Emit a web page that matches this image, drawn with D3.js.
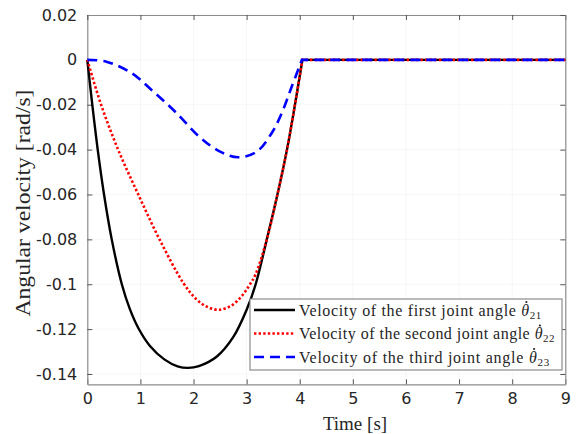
<html>
<head>
    <meta content="text/html;charset=utf-8" http-equiv="Content-Type"/>
    <style>
        body { margin: 0; background: #fff; }
        .tick text { font-family: "DejaVu Sans", sans-serif; font-size: 16px; fill: #262626; }
        .serif { font-family: "Liberation Serif", "Times New Roman", serif; fill: #262626; }
    </style>
</head>
<body>

<svg id="chart" width="578" height="434"></svg>

<script src="https://d3js.org/d3.v7.min.js"></script>
<script>
    // values
    const black_t = [0, 0.094, 0.196, 0.315, 0.46, 0.65, 0.80, 0.96, 1.18, 1.45, 1.70, 1.90, 2.10, 2.44, 2.75, 3.0, 3.17, 3.38, 3.58, 3.76, 3.91, 4.05, 9];
    const black_v = [0, -0.020, -0.040, -0.060, -0.080, -0.100, -0.111, -0.1195, -0.1275, -0.1335, -0.1366, -0.1373, -0.1365, -0.1322, -0.1235, -0.1114, -0.100, -0.080, -0.060, -0.040, -0.020, 0, 0];

    const red_t = [0, 0.26, 0.58, 0.96, 1.36, 1.81, 2.05, 2.25, 2.47, 2.70, 2.90, 3.05, 3.17, 3.38, 3.58, 3.76, 3.91, 4.05, 9];
    const red_v = [0, -0.020, -0.040, -0.060, -0.080, -0.0995, -0.1066, -0.1100, -0.1114, -0.1097, -0.1055, -0.1005, -0.0955, -0.080, -0.060, -0.040, -0.020, 0, 0];

    const blue_t = [0, 0.36, 0.84, 1.21, 1.65, 2.12, 2.50, 2.84, 3.19, 3.47, 3.66, 3.85, 4.04, 9];
    const blue_v = [0, -0.0008, -0.006, -0.0134, -0.023, -0.0345, -0.0409, -0.0434, -0.0409, -0.0327, -0.0238, -0.0119, 0, 0];

    const x_ticks = [0, 1, 2, 3, 4, 5, 6, 7, 8, 9];
    const y_ticks = [0.02, 0, -0.02, -0.04, -0.06, -0.08, -0.1, -0.12, -0.14];
    const y_tick_labels = ["0.02", "0", "-0.02", "-0.04", "-0.06", "-0.08", "-0.1", "-0.12", "-0.14"];

    const legend_names = ["Velocity of the first joint angle ", "Velocity of the second joint angle ", "Velocity of the third joint angle "];
    const legend_subs = ["21", "22", "23"];

    const ax_left = 87.3, ax_right = 565.3, ax_top = 15, ax_bottom = 384.3;

    const svg = d3.select('#chart');
    const x = d3.scaleLinear().domain([0, 9]).range([ax_left, ax_right]);
    const y = d3.scaleLinear().domain([-0.1446, 0.02]).range([ax_bottom, ax_top]);

    // faint grid
    const grid = svg.append('g').attr('stroke', '#000').attr('stroke-opacity', 0.035);
    x_ticks.forEach(function(t) {
        grid.append('line').attr('x1', x(t)).attr('x2', x(t)).attr('y1', ax_top).attr('y2', ax_bottom);
    });
    y_ticks.forEach(function(t) {
        grid.append('line').attr('x1', ax_left).attr('x2', ax_right).attr('y1', y(t)).attr('y2', y(t));
    });

    // axes, ticks pointing inward on all four sides
    const fmt = function(d) { return y_tick_labels[y_ticks.indexOf(d)]; };
    svg.append('g').attr('transform', 'translate(0,' + ax_bottom + ')')
        .call(d3.axisBottom(x).tickValues(x_ticks).tickSizeInner(-5).tickSizeOuter(0).tickPadding(8).tickFormat(d3.format('d')));
    svg.append('g').attr('transform', 'translate(' + ax_left + ',0)')
        .call(d3.axisLeft(y).tickValues(y_ticks).tickSizeInner(-5).tickSizeOuter(0).tickPadding(10).tickFormat(fmt));
    svg.append('g').attr('transform', 'translate(0,' + ax_top + ')')
        .call(d3.axisTop(x).tickValues(x_ticks).tickSizeInner(-5).tickSizeOuter(0).tickFormat(''));
    svg.append('g').attr('transform', 'translate(' + ax_right + ',0)')
        .call(d3.axisRight(y).tickValues(y_ticks).tickSizeInner(-5).tickSizeOuter(0).tickFormat(''));
    svg.selectAll('.domain').attr('stroke', '#8c8c8c').attr('stroke-width', 1.2);
    svg.selectAll('.tick line').attr('stroke', '#555');

    // curves: smooth part up to the stop time, straight zero line afterwards
    function series(ts, vs) {
        return ts.map(function(t, i) { return {t: t, v: vs[i]}; });
    }
    function draw(ts, vs, style) {
        const d = series(ts, vs);
        const n = d.length;
        const smooth = d3.line().x(function(p) { return x(p.t); }).y(function(p) { return y(p.v); }).curve(d3.curveCatmullRom.alpha(0.5));
        const straight = d3.line().x(function(p) { return x(p.t); }).y(function(p) { return y(p.v); });
        const path = smooth(d.slice(0, n - 1)) + straight(d.slice(n - 2)).replace(/^M[^L]*/, '');
        svg.append('path').attr('d', path).attr('fill', 'none')
            .attr('stroke', style.color).attr('stroke-width', style.width)
            .attr('stroke-dasharray', style.dash);
    }
    const styles = [
        {color: '#000', width: 2.4, dash: null},
        {color: '#ff0000', width: 2.6, dash: '2.4,2.2'},
        {color: '#0000ff', width: 2.6, dash: '10,6'}
    ];
    draw(black_t, black_v, styles[0]);
    draw(red_t, red_v, styles[1]);
    draw(blue_t, blue_v, styles[2]);

    // legend
    const lg = svg.append('g');
    lg.append('rect').attr('x', 250).attr('y', 299).attr('width', 312).attr('height', 71)
        .attr('fill', '#fff').attr('stroke', '#8c8c8c').attr('stroke-width', 1.2);
    const row_y = [310, 333.5, 357];
    const row_end = [542, 555, 550];
    legend_names.forEach(function(name, i) {
        lg.append('line').attr('x1', 254).attr('x2', 295).attr('y1', row_y[i]).attr('y2', row_y[i])
            .attr('stroke', styles[i].color).attr('stroke-width', styles[i].width)
            .attr('stroke-dasharray', styles[i].dash);
        const base = row_y[i] + 5.5;
        const tx = lg.append('text').attr('class', 'serif').attr('x', 299).attr('y', base)
            .attr('font-size', 16);
        const nm = tx.append('tspan').text(name);
        tx.append('tspan').attr('font-style', 'italic').text('\u03B8');
        tx.append('tspan').attr('font-size', 11).attr('dy', 3).text(legend_subs[i]);
        // stretch the spacing so the row ends where the reference row ends
        const w = tx.node().getComputedTextLength();
        const nchar = name.length + 3;
        tx.style('letter-spacing', ((row_end[i] - 299 - w) / nchar) + 'px');
        // dot over theta
        const th_x = 299 + nm.node().getComputedTextLength();
        lg.append('circle').attr('cx', th_x + 5.2).attr('cy', base - 13.5).attr('r', 1.1).attr('fill', '#262626');
    });

    // axis titles
    svg.append('text').attr('class', 'serif').attr('x', 355).attr('y', 430)
        .attr('text-anchor', 'middle').attr('font-size', 19).text('Time [s]');
    svg.append('text').attr('class', 'serif')
        .attr('transform', 'translate(30,203) rotate(-90)')
        .attr('text-anchor', 'middle').attr('font-size', 20)
        .attr('textLength', 227).attr('lengthAdjust', 'spacingAndGlyphs')
        .text('Angular velocity [rad/s]');
</script>

</body>
</html>
